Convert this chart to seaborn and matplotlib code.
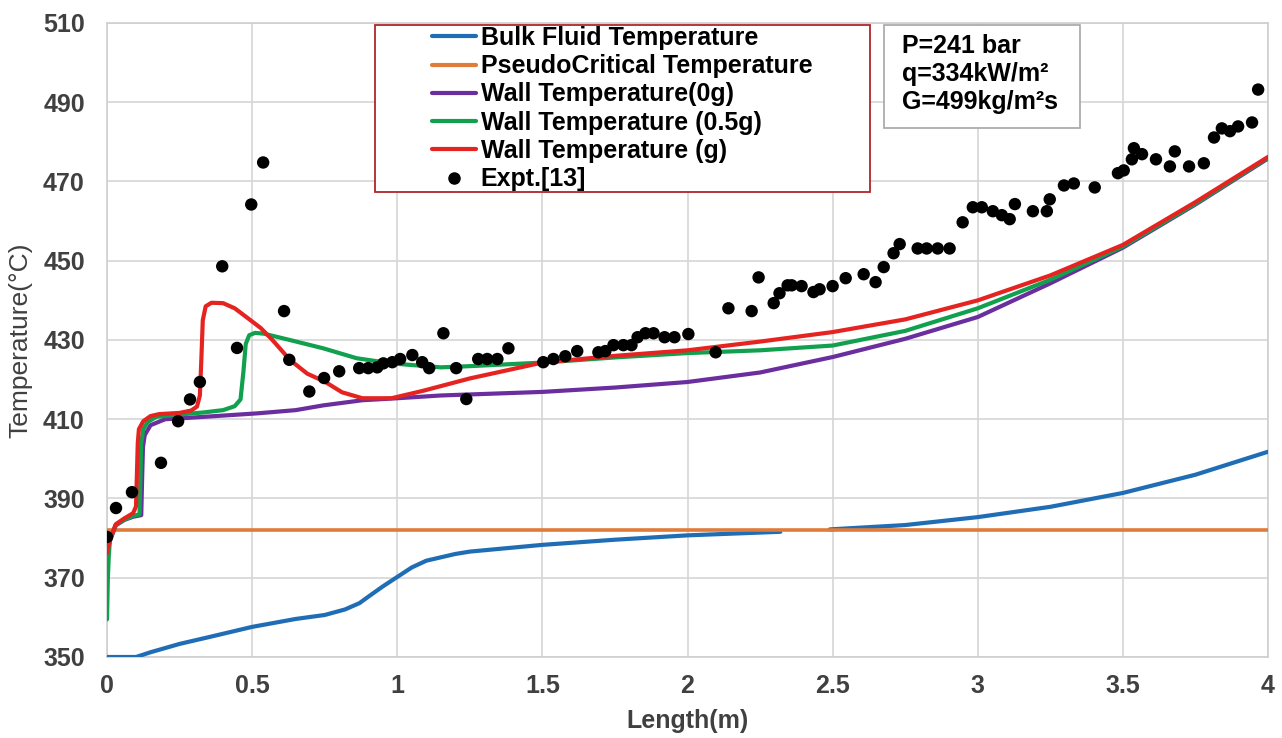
import numpy as np
import pandas as pd
import matplotlib
matplotlib.use("Agg")
import matplotlib.pyplot as plt
from matplotlib.patches import Rectangle
from matplotlib.lines import Line2D
import seaborn as sns

# ---- Bulk fluid temperature (gap where it runs under the pseudo-critical line)
bulk_x = [0.0, 0.1, 0.15, 0.25, 0.35, 0.5, 0.65, 0.75, 0.82, 0.87, 0.9, 0.95, 1.0,
          1.05, 1.1, 1.2, 1.25, 1.5, 1.75, 2.0, 2.32,
          np.nan,
          2.49, 2.75, 3.0, 3.25, 3.5, 3.75, 4.0]
bulk_t = [350.0, 350.0, 351.2, 353.3, 355.0, 357.6, 359.6, 360.6, 362.0, 363.6, 365.2, 367.8, 370.2,
          372.6, 374.3, 376.0, 376.6, 378.3, 379.6, 380.7, 381.6,
          np.nan,
          382.2, 383.3, 385.3, 387.9, 391.4, 396.0, 401.8]

# ---- Pseudo-critical temperature
pc_x = [0.0, 4.0]
pc_t = [382.0, 382.0]

# ---- Wall temperature, 0g
w0_x = [0.0, 0.01, 0.03, 0.06, 0.09, 0.118, 0.121, 0.124, 0.13, 0.15, 0.2, 0.29, 0.52,
        0.65, 0.745, 0.88, 1.0, 1.15, 1.5, 1.75, 2.0, 2.25, 2.5, 2.75, 3.0, 3.25, 3.5,
        3.75, 4.0]
w0_t = [376.0, 379.3, 383.2, 384.6, 385.4, 385.8, 395.0, 403.0, 406.0, 408.5, 410.0, 410.4, 411.5,
        412.3, 413.5, 414.8, 415.3, 416.0, 416.9, 418.0, 419.4, 421.8, 425.7, 430.3, 435.8, 444.3, 453.3,
        464.2, 475.8]

# ---- Wall temperature, 0.5g
w05_x = [0.0, 0.003, 0.006, 0.01, 0.03, 0.06, 0.09, 0.112, 0.115, 0.118, 0.125, 0.14, 0.17,
         0.25, 0.33, 0.4, 0.44, 0.46, 0.47, 0.478, 0.49, 0.51, 0.54, 0.63, 0.745, 0.86, 0.98,
         1.15, 1.25, 1.5, 1.75, 2.0, 2.25, 2.5, 2.75, 3.0, 3.25, 3.5, 3.75, 4.0]
w05_t = [359.5, 370.0, 375.3, 379.5, 383.3, 384.7, 385.6, 386.0, 395.0, 404.0, 407.5, 409.3, 410.6,
         411.2, 411.7, 412.3, 413.3, 415.0, 422.0, 429.0, 431.2, 431.8, 431.6, 430.0, 427.9, 425.4, 424.1,
         423.1, 423.4, 424.3, 425.6, 426.7, 427.4, 428.6, 432.3, 438.0, 445.2, 453.6, 464.4, 476.0]

# ---- Wall temperature, 1g
w1_x = [0.0, 0.01, 0.03, 0.06, 0.09, 0.1, 0.103, 0.106, 0.11, 0.125, 0.15, 0.18, 0.25, 0.29,
        0.31, 0.32, 0.325, 0.33, 0.34, 0.36, 0.4, 0.44, 0.48, 0.53, 0.57, 0.63, 0.69, 0.75,
        0.81, 0.88, 0.98, 1.09, 1.25, 1.5, 1.75, 2.0, 2.25, 2.5, 2.75, 3.0, 3.25, 3.5, 3.75, 4.0]
w1_t = [376.2, 379.5, 383.5, 385.0, 386.3, 388.0, 396.0, 404.0, 407.5, 409.5, 410.8, 411.3, 411.6, 412.2,
        413.2, 416.0, 425.0, 435.0, 438.5, 439.4, 439.3, 438.0, 435.8, 433.0, 430.0, 425.0, 421.5, 419.5,
        416.8, 415.3, 415.3, 417.2, 420.3, 424.3, 426.0, 427.4, 429.6, 432.0, 435.2, 440.0, 446.3, 454.0,
        464.8, 476.2]

# ---- Experimental data, ref. [13]
exp_x = [0.0, 0.031, 0.086, 0.186, 0.245, 0.286, 0.32, 0.397, 0.448, 0.497, 0.538, 0.61, 0.628,
         0.697, 0.748, 0.8, 0.869, 0.9, 0.931, 0.952, 0.983, 1.01, 1.052, 1.086, 1.11, 1.159,
         1.203, 1.238, 1.279, 1.31, 1.345, 1.383, 1.503, 1.538, 1.579, 1.62, 1.693, 1.717, 1.745,
         1.779, 1.807, 1.828, 1.855, 1.883, 1.921, 1.955, 2.003, 2.097, 2.141, 2.221, 2.245,
         2.297, 2.317, 2.345, 2.359, 2.393, 2.434, 2.455, 2.5, 2.545, 2.607, 2.648, 2.676, 2.71,
         2.731, 2.793, 2.824, 2.862, 2.903, 2.948, 2.983, 3.014, 3.052, 3.083, 3.11, 3.128,
         3.19, 3.238, 3.248, 3.297, 3.331, 3.403, 3.483, 3.503, 3.531, 3.538, 3.566, 3.614,
         3.662, 3.679, 3.728, 3.779, 3.814, 3.841, 3.869, 3.897, 3.945, 3.966]
exp_t = [380.3, 387.6, 391.6, 399.0, 409.5, 415.0, 419.4, 448.6, 428.0, 464.2, 474.8, 437.3, 425.0,
         417.0, 420.4, 422.1, 422.9, 422.9, 423.1, 424.1, 424.4, 425.2, 426.2, 424.4, 422.9, 431.7,
         422.9, 415.1, 425.2, 425.2, 425.2, 427.9, 424.4, 425.2, 425.9, 427.2, 426.9, 427.2, 428.7,
         428.7, 428.7, 430.7, 431.7, 431.7, 430.7, 430.7, 431.5, 426.9, 438.0, 437.3, 445.8,
         439.3, 441.8, 443.8, 443.8, 443.6, 442.1, 442.8, 443.6, 445.6, 446.6, 444.6, 448.4, 451.9,
         454.2, 453.1, 453.1, 453.1, 453.1, 459.7, 463.5, 463.5, 462.5, 461.5, 460.5, 464.3,
         462.5, 462.5, 465.5, 469.0, 469.5, 468.5, 472.1, 472.8, 475.6, 478.4, 476.9, 475.6,
         473.8, 477.6, 473.8, 474.6, 481.1, 483.4, 482.7, 483.9, 484.9, 493.2]

labels = ["Bulk Fluid Temperature", "PseudoCritical Temperature", "Wall Temperature(0g)",
          "Wall Temperature (0.5g)", "Wall Temperature (g)", "Expt.[13]"]
colors = ["#1F6EB5", "#E07B39", "#6A2E9E", "#10A04E", "#E52421", "#000000"]

x_ticks = [0, 0.5, 1, 1.5, 2, 2.5, 3, 3.5, 4]
y_ticks = [350, 370, 390, 410, 430, 450, 470, 490, 510]

sns.set_theme(style="whitegrid")
plt.rcParams["font.family"] = ["Liberation Sans", "DejaVu Sans"]

W, H = 1282, 738
fig = plt.figure(figsize=(W / 100, H / 100), dpi=100)
ax = fig.add_axes([107 / W, 1 - 657 / H, (1268 - 107) / W, (657 - 23) / H])
ax.set_facecolor("white")

LW = 3.0

# bulk line, split at the gap
bx = np.array(bulk_x, dtype=float)
bt = np.array(bulk_t, dtype=float)
gap = np.where(np.isnan(bx))[0][0]
for seg in (slice(0, gap), slice(gap + 1, None)):
    sns.lineplot(x=bx[seg], y=bt[seg], ax=ax, color=colors[0], lw=LW,
                 sort=False, estimator=None, zorder=3)

sns.lineplot(x=pc_x, y=pc_t, ax=ax, color=colors[1], lw=2.6, sort=False, estimator=None, zorder=3)
sns.lineplot(x=w0_x, y=w0_t, ax=ax, color=colors[2], lw=LW, sort=False, estimator=None, zorder=4)
sns.lineplot(x=w05_x, y=w05_t, ax=ax, color=colors[3], lw=LW, sort=False, estimator=None, zorder=5)
sns.lineplot(x=w1_x, y=w1_t, ax=ax, color=colors[4], lw=LW, sort=False, estimator=None, zorder=6)
sns.scatterplot(x=exp_x, y=exp_t, ax=ax, color=colors[5], s=80, edgecolor="none", zorder=7)

ax.set_xlim(0, 4)
ax.set_ylim(350, 510)
ax.set_xticks(x_ticks)
ax.set_xticklabels([f"{v:g}" for v in x_ticks])
ax.set_yticks(y_ticks)
ax.set_yticklabels([str(v) for v in y_ticks])
ax.grid(True, color="#d6d6d6", lw=1.2)
for sp in ax.spines.values():
    sp.set_color("#cfcfcf")
    sp.set_linewidth(1.2)
ax.tick_params(axis="both", length=0, labelsize=18, colors="#404040")
ax.tick_params(axis="y", pad=16)
ax.tick_params(axis="x", pad=12)
for t in ax.get_xticklabels() + ax.get_yticklabels():
    t.set_fontweight("bold")

ax.set_xlabel("Length(m)", fontsize=18, fontweight="bold", color="#404040", labelpad=8)
ax.set_ylabel("Temperature(\u00b0C)", fontsize=19, color="#404040", labelpad=8)

# legend with a dark red frame
handles = [Line2D([], [], color=c, lw=3) for c in colors[:5]]
handles.append(Line2D([], [], color="black", marker="o", ls="none", markersize=8))
leg = ax.legend(handles, labels, loc="upper left", bbox_to_anchor=((432 - 107) / 1161, (657 - 26) / 634),
                frameon=False, prop={"weight": "bold", "size": 18},
                handlelength=1.75, handletextpad=0.2, labelspacing=0.17,
                borderpad=0, borderaxespad=0)
for t in leg.get_texts():
    t.set_color("black")
ax.add_patch(Rectangle(((375 - 107) / 1161, (657 - 192) / 634), (870 - 375) / 1161, (192 - 25) / 634,
                       transform=ax.transAxes, fill=True, facecolor="white", edgecolor="#B0262A",
                       lw=1.3, zorder=8))
leg.set_zorder(9)

# operating conditions box
ax.add_patch(Rectangle(((884 - 107) / 1161, (657 - 128) / 634), (1080 - 884) / 1161, (128 - 25) / 634,
                       transform=ax.transAxes, facecolor="white", edgecolor="#a6a6a6",
                       lw=1.2, zorder=8))
ax.text((902 - 107) / 1161, (657 - 34) / 634, "P=241 bar\nq=334kW/m\u00b2\nG=499kg/m\u00b2s",
        transform=ax.transAxes, ha="left", va="top", fontsize=18, fontweight="bold",
        color="black", linespacing=1.22, zorder=9)

fig.savefig("out.png", dpi=100)
